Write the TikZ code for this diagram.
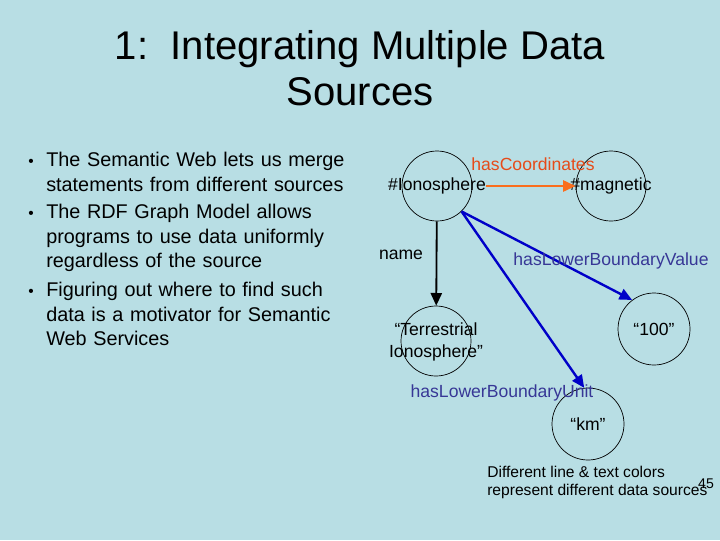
\documentclass[tikz,border=0pt]{standalone}
\usepackage{fontspec}
\setmainfont{Liberation Sans}
\usepackage{xcolor}
\usetikzlibrary{arrows.meta,positioning}
\definecolor{slidebg}{RGB}{184,222,228}
\definecolor{srcorange}{RGB}{250,110,30}
\definecolor{srcorangetxt}{RGB}{230,75,25}
\definecolor{srcblue}{RGB}{0,0,200}
\definecolor{srcbluetxt}{RGB}{55,55,150}
\tikzset{
  ttl/.style    ={align=center, font=\fontsize{28.5}{33}\selectfont},
  bul/.style    ={anchor=north west, inner sep=0pt, text width=320*0.025cm, align=left, font=\fontsize{14.1}{17.4}\selectfont},
  dot/.style    ={anchor=base, inner sep=0pt, font=\fontsize{11}{12}\selectfont},
  res/.style    ={draw, circle, minimum size=70*0.025cm, inner sep=0pt, line width=0.5pt},
  rtxt/.style   ={align=center, font=\fontsize{12.5}{15.5}\selectfont, inner sep=0pt},
  arc/.style    ={-{Triangle[length=9pt, width=8pt]}, line width=1.3pt},
  lbl/.style    ={font=\fontsize{12.5}{14}\selectfont, inner sep=1pt},
  note/.style   ={align=left, font=\fontsize{11.1}{12.5}\selectfont, inner sep=0pt}
}
\begin{document}
\begin{tikzpicture}[x=0.025cm, y=-0.025cm]
  \useasboundingbox[fill=slidebg] (0,0) rectangle (720,540);
  \node[ttl] (title) at (360,68) {1:\ \ Integrating Multiple Data\\Sources};
  \node[dot] (b1) at (31,166) {\textbullet};
  \node[bul] (t1) at (46,152) {The Semantic Web lets us merge\\statements from different sources};
  \node[dot] (b2) at (31,218) {\textbullet};
  \node[bul] (t2) at (46,204) {The RDF Graph Model allows\\programs to use data uniformly\\regardless of the source};
  \node[dot] (b3) at (31,296) {\textbullet};
  \node[bul] (t3) at (46,282) {Figuring out where to find such\\data is a motivator for Semantic\\Web Services};
  \node[res] (iono) at (437,186) {};
  \node[res] (mag)  at (611,186) {};
  \node[res] (terr) at (436,341) {};
  \node[res, minimum size=72*0.025cm] (val)  at (654,329) {};
  \node[res, minimum size=72*0.025cm] (unit) at (588,424) {};
  \node[rtxt] (ionot) at (iono) {\#Ionosphere};
  \node[rtxt] (magt)  at (mag)  {\#magnetic};
  \node[rtxt] (terrt) at (436,342) {``Terrestrial\\Ionosphere''};
  \node[rtxt] (valt)  at (val)  {``100''};
  \node[rtxt] (unitt) at (unit) {``km''};
  \draw[arc, srcorange, line width=1.6pt] (ionot.east) -- (mag.west);
  \draw[arc] (iono) -- (terr);
  \draw[arc, srcblue, line width=1.7pt] (iono.-46) -- (val.127);
  \draw[arc, srcblue, line width=1.7pt] (iono.-46) -- (unit.96);
  \node[lbl, text=srcorangetxt] (lcoord) at (533,164) {hasCoordinates};
  \node[lbl] (lname) at (401,255) {name};
  \node[lbl, text=srcbluetxt] (lval) at (611,261) {hasLowerBoundaryValue};
  \node[lbl, text=srcbluetxt] (lunit) at (502,393) {hasLowerBoundaryUnit};
  \node[note, anchor=north west] (foot) at (487,466) {Different line \& text colors\\represent different data sources};
  \node[font=\fontsize{10}{12}\selectfont, inner sep=0pt] (pg) at (706,484) {45};
\end{tikzpicture}
\end{document}
